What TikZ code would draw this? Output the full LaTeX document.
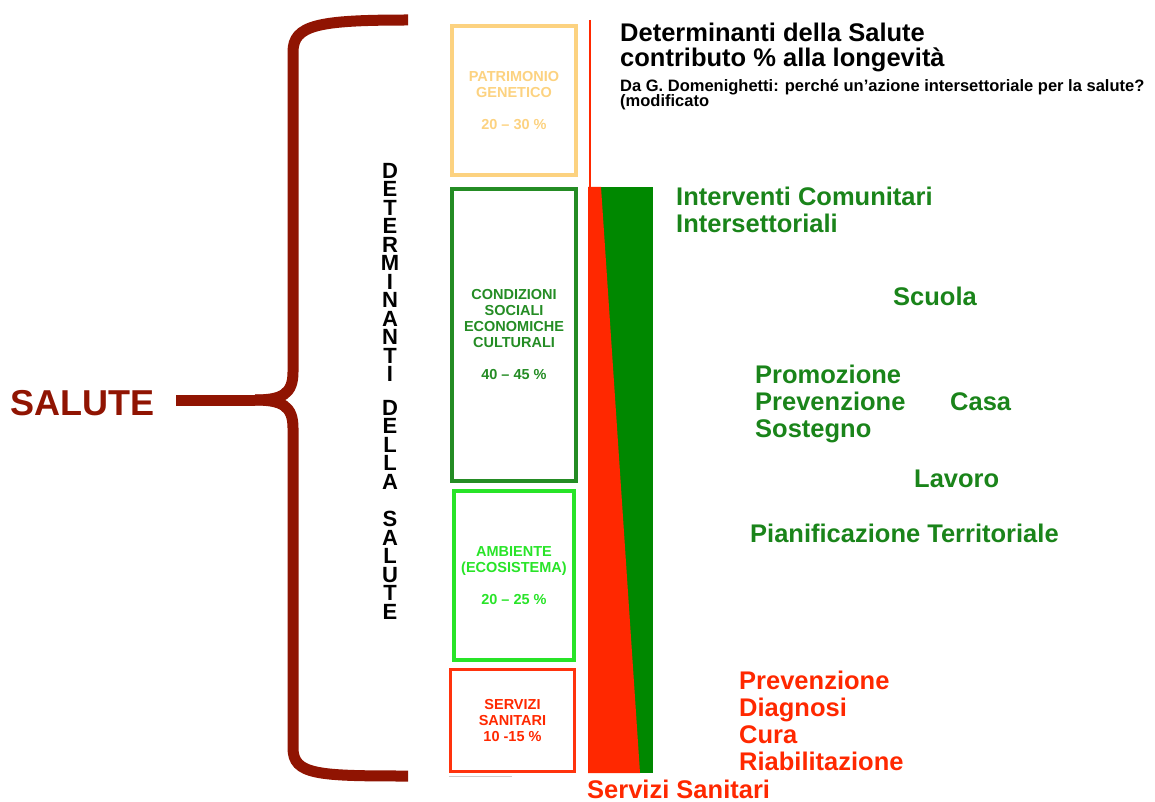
\documentclass[tikz,border=0pt]{standalone}
\usepackage{fontspec}
\setmainfont{Liberation Sans}
\usetikzlibrary{positioning}

\definecolor{bracered}{RGB}{144,20,2}
\definecolor{genorange}{RGB}{252,210,128}
\definecolor{socgreen}{RGB}{36,140,36}
\definecolor{envgreen}{RGB}{40,228,40}
\definecolor{carered}{RGB}{255,40,0}
\definecolor{bargreen}{RGB}{0,136,0}
\definecolor{txtgreen}{RGB}{26,132,26}

\begin{document}
\begin{tikzpicture}[x=1pt, y=-1pt,
  brace/.style={draw=bracered, line width=11pt},
  detbox/.style={draw, line width=4pt, inner sep=0pt, align=center, font=\bfseries\fontsize{14.5}{16}\selectfont},
  bigtext/.style={anchor=base west, inner sep=0pt, font=\bfseries\fontsize{25.5}{27}\selectfont},
  smalltext/.style={anchor=base west, inner sep=0pt, font=\bfseries\fontsize{16.5}{16}\selectfont}]
\useasboundingbox (0,0) rectangle (1155,802);

% brace
\coordinate (tip) at (176,400);
\coordinate (cusp) at (255,400);
\draw[brace] (408,20) .. controls (318,20) and (293,25) .. (293,52) -- (293,372) .. controls (293,394) and (282,400) .. (cusp);
\draw[brace] (cusp) .. controls (282,400) and (293,406) .. (293,428) -- (293,748) .. controls (293,775) and (318,776) .. (408,776);
\draw[brace] (tip) -- (cusp);
\node[inner sep=0pt, text=bracered, font=\bfseries\fontsize{36}{36}\selectfont, left=21pt of tip, yshift=-3pt] (salute) {SALUTE};

\node[anchor=north, inner sep=0pt, align=center, font=\bfseries\fontsize{22}{18.5}\selectfont] (detlabel) at (390,163)
  {D\\E\\T\\E\\R\\M\\I\\N\\A\\N\\T\\I\\[15pt]D\\E\\L\\L\\A\\[19pt]S\\A\\L\\U\\T\\E};

% boxes
\node[detbox, draw=genorange, text=genorange, minimum width=124pt, minimum height=149pt] (gen) at (514,100.5)
  {PATRIMONIO\\GENETICO\\[16pt]20 -- 30 \%};
\node[detbox, draw=socgreen, text=socgreen, minimum width=124pt, minimum height=292pt] (soc) at (514,335)
  {CONDIZIONI\\SOCIALI\\ECONOMICHE\\CULTURALI\\[16pt]40 -- 45 \%};
\node[detbox, draw=envgreen, text=envgreen, minimum width=120pt, minimum height=169pt] (env) at (514,575.5)
  {AMBIENTE\\(ECOSISTEMA)\\[16pt]20 -- 25 \%};
\node[detbox, draw=carered!95!white, text=carered, line width=3pt, minimum width=124pt, minimum height=102pt] (serv) at (512.5,720.5)
  {SERVIZI\\SANITARI\\10 -15 \%};
\draw[black!20, line width=1pt] ([yshift=-3pt]serv.south west) -- ++(63,0);

% bar
\fill[bargreen] (588,187) rectangle (653,773);
\fill[carered] (588,187) -- (601,187) -- (640,773) -- (588,773) -- cycle;
\draw[carered, line width=1.5pt] (590,20) -- (590,187);

% titles
\node[bigtext] (title) at (620,42) {Determinanti della Salute};
\node[bigtext] (titleb) at (620,67) {contributo \% alla longevità};
\node[smalltext] (source) at (620,92) {Da G. Domenighetti: perché un'azione intersettoriale per la salute?};
\node[smalltext] (sourceb) at (620,107) {(modificato};

% green interventions
\node[bigtext, text=txtgreen] (interv) at (676,206) {Interventi Comunitari};
\node[bigtext, text=txtgreen] (intervb) at (676,233) {Intersettoriali};
\node[bigtext, text=txtgreen] (scuola) at (893,305) {Scuola};
\node[bigtext, text=txtgreen] (promo) at (755,383) {Promozione};
\node[bigtext, text=txtgreen] (prevg) at (755,410) {Prevenzione};
\node[bigtext, text=txtgreen] (sost) at (755,437) {Sostegno};
\node[bigtext, text=txtgreen] (casa) at (950,410) {Casa};
\node[bigtext, text=txtgreen] (lavoro) at (914,487) {Lavoro};
\node[bigtext, text=txtgreen] (pianif) at (750,542) {Pianificazione Territoriale};

% red interventions
\node[bigtext, text=carered] (prevr) at (739,689) {Prevenzione};
\node[bigtext, text=carered] (diagn) at (739,716) {Diagnosi};
\node[bigtext, text=carered] (cura) at (739,743) {Cura};
\node[bigtext, text=carered] (riab) at (739,770) {Riabilitazione};
\node[bigtext, text=carered] (servsan) at (587,798) {Servizi Sanitari};
\end{tikzpicture}
\end{document}
